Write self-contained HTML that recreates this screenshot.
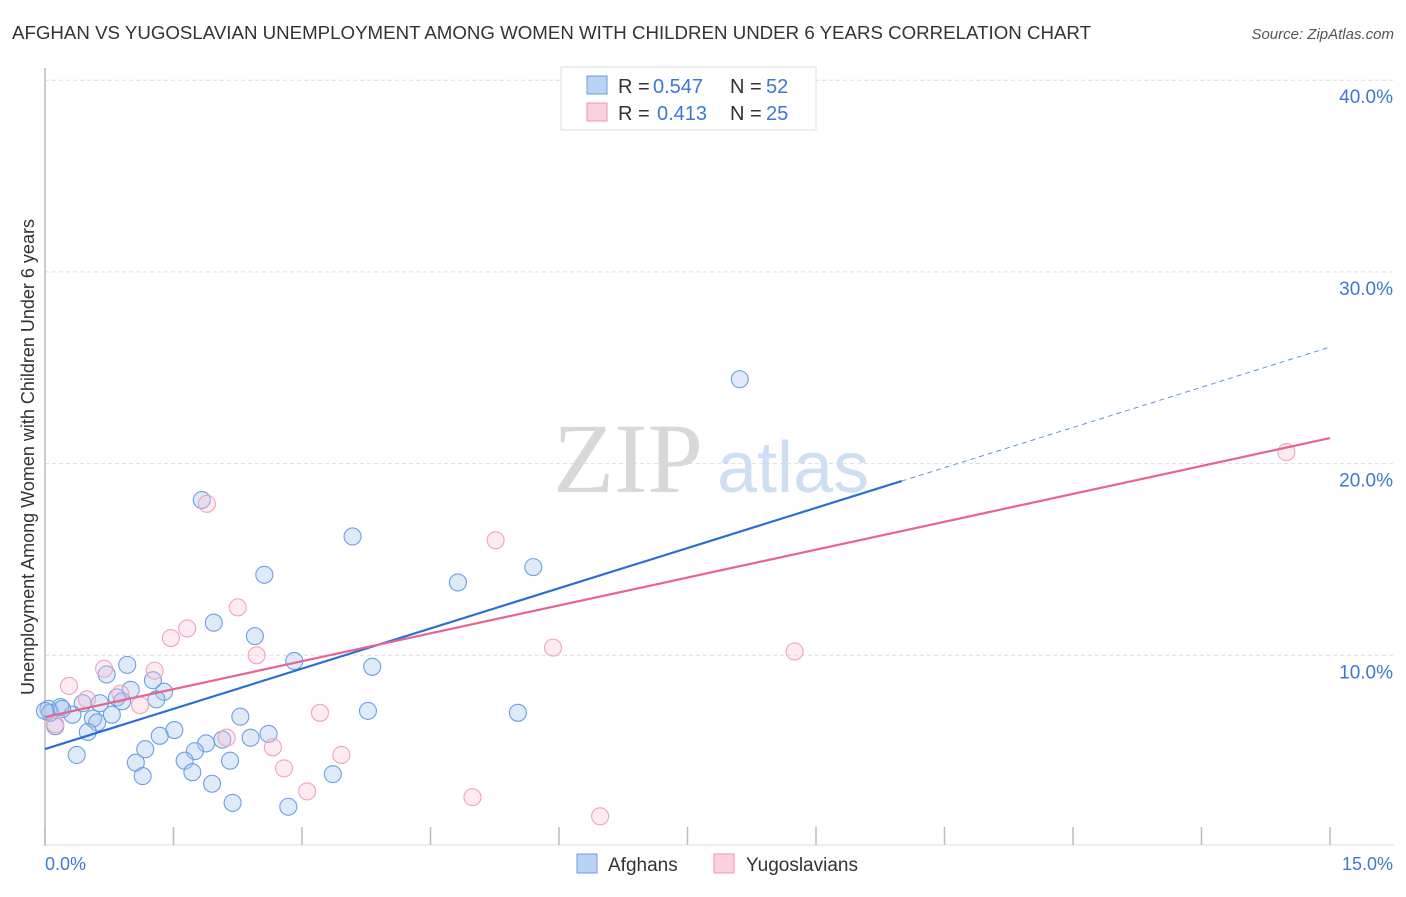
<!DOCTYPE html>
<html><head><meta charset="utf-8">
<style>
body{margin:0;background:#fff;font-family:"Liberation Sans",sans-serif;}
</style></head>
<body>
<svg id="chart" width="1406" height="892" xmlns="http://www.w3.org/2000/svg" font-family="Liberation Sans, sans-serif">
<text x="12" y="39" font-size="18" fill="#333" textLength="1079" lengthAdjust="spacingAndGlyphs">AFGHAN VS YUGOSLAVIAN UNEMPLOYMENT AMONG WOMEN WITH CHILDREN UNDER 6 YEARS CORRELATION CHART</text>
<text x="1394" y="39" font-size="15" fill="#555" text-anchor="end" font-style="italic">Source: ZipAtlas.com</text>
<g id="grid"></g>
<g>
<text x="553" y="492" font-size="100" fill="#d8d8d8" style="font-family:'Liberation Serif',serif">ZIP</text>
<text x="717" y="492" font-size="72" fill="#cfdff3">atlas</text>
</g>
<line x1="45" y1="68" x2="45" y2="846" stroke="#bbb" stroke-width="1.5"/>
<line x1="45" y1="845" x2="1394" y2="845" stroke="#ddd" stroke-width="1"/>
<g id="xticks"></g>
<g id="yticks"></g>
<g id="points"></g>
<g id="lines"></g>
<text transform="translate(34,457) rotate(-90)" font-size="18" fill="#333" text-anchor="middle">Unemployment Among Women with Children Under 6 years</text>
<text x="45" y="870" font-size="18" fill="#3b78d8">0.0%</text>
<text x="1393" y="870" font-size="18" fill="#3b78d8" text-anchor="end">15.0%</text>
<g>
<rect x="561" y="67" width="255" height="63" fill="#fff" stroke="#ddd"/>
<rect x="587" y="76" width="20" height="18" fill="#b9d3f5" stroke="#6a9be0"/>
<rect x="587" y="103" width="20" height="18" fill="#fcd0dc" stroke="#ee97b0"/>
<text x="618" y="93" font-size="20" fill="#333">R = <tspan x="653" fill="#3b78d8">0.547</tspan><tspan x="730">N = </tspan><tspan x="766" fill="#3b78d8">52</tspan></text>
<text x="618" y="120" font-size="20" fill="#333">R = <tspan x="657" fill="#3b78d8">0.413</tspan><tspan x="730">N = </tspan><tspan x="766" fill="#3b78d8">25</tspan></text>
</g>
<g>
<rect x="577" y="854" width="20" height="19" fill="#b9d3f5" stroke="#6a9be0"/>
<text x="608" y="871" font-size="19" fill="#333">Afghans</text>
<rect x="714" y="854" width="20" height="19" fill="#fcd0dc" stroke="#ee97b0"/>
<text x="746" y="871" font-size="19" fill="#333">Yugoslavians</text>
</g>
</svg>
<script>
const yTicks=[10,20,30,40];
const yTickLabels=["10.0%","20.0%","30.0%","40.0%"];
const xTickVals=[0,1.5,3,4.5,6,7.5,9,10.5,12,13.5,15];
const afghanX=[1.83,3.59,2.56,4.82,5.70,8.11,1.97,2.45,2.91,3.82,0.96,0.72,1.26,1.39,1.00,0.84,0.90,1.30,0.44,0.18,0.04,0.32,0.56,0.78,2.28,3.77,5.52,0.61,0.50,1.51,1.34,2.61,2.40,2.07,1.88,1.17,1.75,0.37,1.63,1.06,2.16,1.72,1.14,3.36,1.95,2.19,2.84,0.12,0.06,0.20,0.00,0.64];
const afghanY=[18.1,16.2,14.2,13.8,14.6,24.4,11.7,11.0,9.7,9.4,9.5,9.0,8.7,8.1,8.2,7.8,7.6,7.7,7.5,7.3,7.2,6.9,6.7,6.9,6.8,7.1,7.0,6.5,6.0,6.1,5.8,5.9,5.7,5.6,5.4,5.1,5.0,4.8,4.5,4.4,4.5,3.9,3.7,3.8,3.3,2.3,2.1,6.3,7.0,7.2,7.1,7.5];
const yugoX=[7.50,1.89,14.49,5.26,2.25,1.66,1.47,5.93,8.75,2.47,0.69,1.28,0.28,0.49,0.88,1.11,3.21,2.12,2.66,3.46,2.79,3.06,4.99,6.48,0.12];
const yugoY=[40.1,17.9,20.6,16.0,12.5,11.4,10.9,10.4,10.2,10.0,9.3,9.2,8.4,7.7,8.0,7.4,7.0,5.7,5.2,4.8,4.1,2.9,2.6,1.6,6.4];
const blueLine={a:5.11,b:26.08,solidEnd:10.0};
const pinkLine={a:6.78,b:21.33};
const NS="http://www.w3.org/2000/svg";
const X=v=>45+v*(1285/15);
const Y=v=>847-v*19.17;
function mk(tag,attrs,parent){const e=document.createElementNS(NS,tag);for(const k in attrs)e.setAttribute(k,attrs[k]);parent.appendChild(e);return e;}
const grid=document.getElementById('grid');
yTicks.forEach((t,i)=>{
 const l=mk('line',{x1:45,x2:1394,y1:Y(t),y2:Y(t),stroke:'#ddd','stroke-dasharray':'4,3'},grid);
 
 
 const tx=mk('text',{x:1393,y:Y(t)+23,'font-size':19,fill:'#3b78d8','text-anchor':'end'},document.getElementById('yticks'));
 tx.textContent=yTickLabels[i];
 
 
});
xTickVals.forEach(t=>{
 const l=mk('line',{x1:X(t),x2:X(t),y1:827,y2:845,stroke:'#bbb','stroke-width':1.5},document.getElementById('xticks'));
 
 
});
const pts=document.getElementById('points');
afghanX.forEach((x,i)=>{
 const c=mk('circle',{cx:X(x),cy:Y(afghanY[i]),r:8.5,fill:'rgba(160,196,240,0.35)',stroke:'#6d9fe2','stroke-width':1.1},pts);
 
 
});
yugoX.forEach((x,i)=>{
 const c=mk('circle',{cx:X(x),cy:Y(yugoY[i]),r:8.5,fill:'rgba(250,190,208,0.3)',stroke:'#f0a3ba','stroke-width':1.1},pts);
 
 
});
const ln=document.getElementById('lines');
const by=x=>blueLine.a+(blueLine.b-blueLine.a)*x/15;
const py=x=>pinkLine.a+(pinkLine.b-pinkLine.a)*x/15;
let l1=mk('line',{x1:X(0),y1:Y(by(0)),x2:X(blueLine.solidEnd),y2:Y(by(blueLine.solidEnd)),stroke:'#2a6fd6','stroke-width':2.2},ln);


let l2=mk('line',{x1:X(blueLine.solidEnd),y1:Y(by(blueLine.solidEnd)),x2:X(15),y2:Y(by(15)),stroke:'#5d93de','stroke-width':1,'stroke-dasharray':'5,4'},ln);


let l3=mk('line',{x1:X(0),y1:Y(py(0)),x2:X(15),y2:Y(py(15)),stroke:'#e5658f','stroke-width':2.2},ln);


</script>
</body></html>
